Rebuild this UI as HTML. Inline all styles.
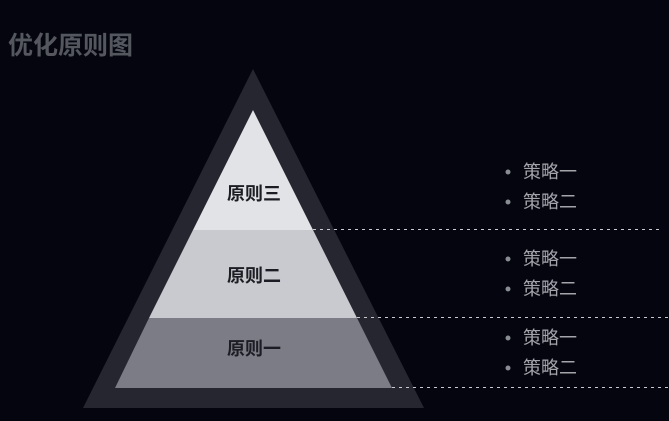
<!DOCTYPE html>
<html><head><meta charset="utf-8"><style>
html,body{margin:0;padding:0;background:#04050f;width:669px;height:421px;overflow:hidden}
</style></head><body>
<svg width="669" height="421" xmlns="http://www.w3.org/2000/svg" style="display:block">
<rect width="669" height="421" fill="#04050f"/>
<text x="8" y="54" font-family="Liberation Sans, Noto Sans CJK SC, sans-serif" font-size="25" font-weight="bold" fill="#55575f">优化原则图</text>
<polygon points="253,69 424,408 83,408" fill="#252630"/>
<polygon points="253,110 313,230 193,230" fill="#e2e3e6"/>
<polygon points="193,230 313,230 357,318 149,318" fill="#c9cacf"/>
<polygon points="149,318 357,318 392,388 115,388" fill="#7b7c85"/>
<g stroke="#c9cacf" stroke-width="1" stroke-dasharray="3,4">
<line x1="313" y1="229.5" x2="662" y2="229.5"/>
<line x1="357" y1="317.5" x2="669" y2="317.5"/>
<line x1="392" y1="387.5" x2="669" y2="387.5"/>
</g>
<g font-family="Liberation Sans, Noto Sans CJK SC, sans-serif" font-size="18" font-weight="bold" fill="#1c1d24" text-anchor="middle">
<text x="254" y="200">原则三</text>
<text x="254" y="282">原则二</text>
<text x="254" y="355">原则一</text>
</g>
<g fill="#8a8c93">
<circle cx="508" cy="172" r="2.5"/><circle cx="508" cy="202" r="2.5"/>
<circle cx="508" cy="259" r="2.5"/><circle cx="508" cy="289" r="2.5"/>
<circle cx="508" cy="338" r="2.5"/><circle cx="508" cy="368" r="2.5"/>
</g>
<g font-family="Liberation Sans, Noto Sans CJK SC, sans-serif" font-size="18" fill="#a3a5ab">
<text x="523" y="178">策略一</text><text x="523" y="208">策略二</text>
<text x="523" y="265">策略一</text><text x="523" y="295">策略二</text>
<text x="523" y="344">策略一</text><text x="523" y="374">策略二</text>
</g>
</svg>
</body></html>
